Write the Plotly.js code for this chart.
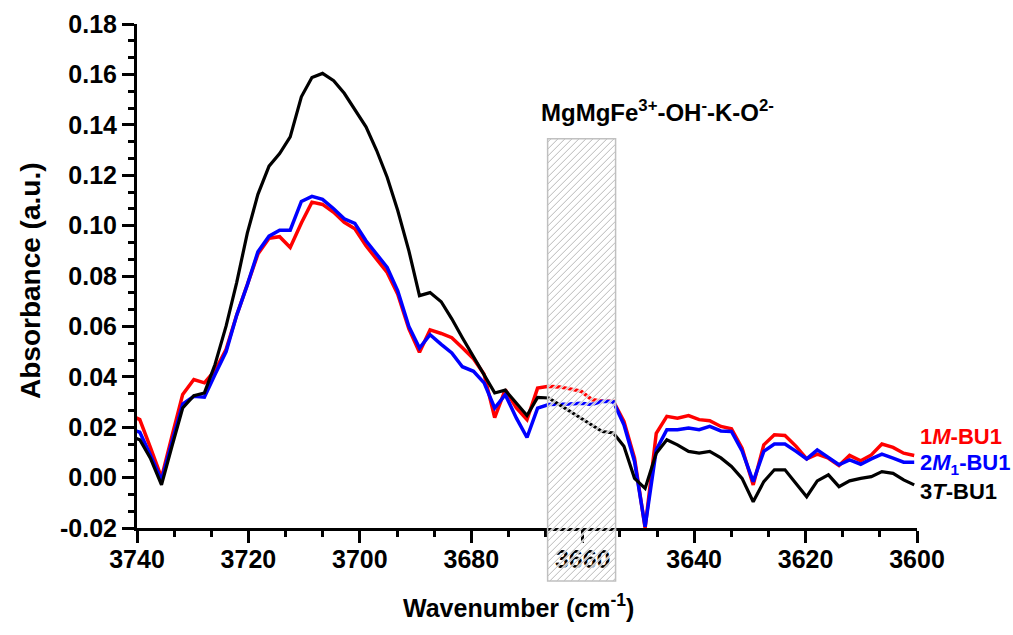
<!DOCTYPE html>
<html>
<head>
<meta charset="utf-8">
<script src="https://cdn.plot.ly/plotly-3.0.1.min.js"></script>
<style>html,body{margin:0;padding:0;background:#fff;}#chart{width:1013px;height:635px;}</style>
</head>
<body>
<div id="chart"></div>
<script>
// Wavenumbers (cm-1)
const wavenumber = [3741.4, 3739.5, 3737.6, 3735.6, 3733.7, 3731.8, 3729.8, 3727.9, 3726.0, 3724.0,
  3722.1, 3720.2, 3718.3, 3716.3, 3714.4, 3712.5, 3710.5, 3708.6, 3706.7, 3704.7,
  3702.8, 3700.9, 3698.9, 3697.0, 3695.1, 3693.2, 3691.2, 3689.3, 3687.4, 3685.4,
  3683.5, 3681.6, 3679.6, 3677.7, 3675.8, 3673.9, 3671.9, 3670.0, 3668.1, 3666.1,
  3664.2, 3662.3, 3660.3, 3658.4, 3656.5, 3654.5, 3652.6, 3650.7, 3648.8, 3646.8,
  3644.9, 3643.0, 3641.0, 3639.1, 3637.2, 3635.2, 3633.3, 3631.4, 3629.4, 3627.5,
  3625.6, 3623.7, 3621.7, 3619.8, 3617.9, 3615.9, 3614.0, 3612.1, 3610.1, 3608.2,
  3606.3, 3604.3, 3602.4, 3600.5];

// 1M-BU1 (red)
const abs1M = [0.0250, 0.0230, 0.0120, 0.0000, 0.0166, 0.0330, 0.0389, 0.0376, 0.0425, 0.0509,
  0.0645, 0.0765, 0.0887, 0.0950, 0.0956, 0.0913, 0.1010, 0.1093, 0.1084, 0.1053,
  0.1013, 0.0987, 0.0920, 0.0867, 0.0814, 0.0728, 0.0590, 0.0497, 0.0586, 0.0572,
  0.0555, 0.0515, 0.0472, 0.0410, 0.0238, 0.0349, 0.0276, 0.0230, 0.0355, 0.0362,
  0.0360, 0.0352, 0.0343, 0.0310, 0.0303, 0.0303, 0.0223, 0.0077, -0.0200, 0.0176,
  0.0243, 0.0236, 0.0246, 0.0230, 0.0226, 0.0203, 0.0194, 0.0117, -0.0029, 0.0130,
  0.0170, 0.0167, 0.0124, 0.0074, 0.0093, 0.0077, 0.0048, 0.0088, 0.0067, 0.0090,
  0.0133, 0.0120, 0.0097, 0.0088];

// 2M1-BU1 (blue)
const abs2M1 = [0.0195, 0.0180, 0.0090, -0.0010, 0.0143, 0.0292, 0.0323, 0.0319, 0.0409, 0.0500,
  0.0645, 0.0765, 0.0896, 0.0958, 0.0982, 0.0982, 0.1096, 0.1116, 0.1104, 0.1067,
  0.1027, 0.1009, 0.0940, 0.0887, 0.0834, 0.0741, 0.0600, 0.0514, 0.0567, 0.0529,
  0.0495, 0.0440, 0.0422, 0.0376, 0.0276, 0.0329, 0.0236, 0.0159, 0.0276, 0.0290,
  0.0290, 0.0292, 0.0295, 0.0290, 0.0303, 0.0301, 0.0210, 0.0064, -0.0195, 0.0110,
  0.0190, 0.0190, 0.0197, 0.0190, 0.0203, 0.0185, 0.0183, 0.0106, -0.0016, 0.0104,
  0.0133, 0.0133, 0.0104, 0.0074, 0.0110, 0.0080, 0.0051, 0.0070, 0.0053, 0.0074,
  0.0093, 0.0077, 0.0061, 0.0061];

// 3T-BU1 (black)
const abs3T = [0.0165, 0.0150, 0.0077, -0.0029, 0.0126, 0.0276, 0.0325, 0.0336, 0.0449, 0.0602,
  0.0775, 0.0970, 0.1124, 0.1236, 0.1286, 0.1352, 0.1511, 0.1588, 0.1604, 0.1575,
  0.1525, 0.1458, 0.1392, 0.1299, 0.1192, 0.1060, 0.0900, 0.0722, 0.0734, 0.0698,
  0.0630, 0.0555, 0.0480, 0.0412, 0.0336, 0.0347, 0.0296, 0.0246, 0.0318, 0.0316,
  0.0290, 0.0263, 0.0236, 0.0210, 0.0183, 0.0177, 0.0124, -0.0003, -0.0043, 0.0097,
  0.0150, 0.0130, 0.0104, 0.0097, 0.0104, 0.0078, 0.0044, -0.0003, -0.0096, -0.0016,
  0.0031, 0.0031, -0.0023, -0.0076, -0.0013, 0.0011, -0.0036, -0.0013, -0.0003, 0.0004,
  0.0024, 0.0017, -0.0009, -0.0029];

const seriesNames = ['1<i>M</i>-BU1', '2<i>M</i><sub>1</sub>-BU1', '3<i>T</i>-BU1'];
const seriesColors = ['#ff0000', '#0000ff', '#000000'];
const labelY = [0.0165, 0.0055, -0.0055];

const xTickVals = [3740, 3720, 3700, 3680, 3660, 3640, 3620, 3600];
const xTickText = ['3740', '3720', '3700', '3680', '3660', '3640', '3620', '3600'];
const yTickVals = [-0.02, 0.00, 0.02, 0.04, 0.06, 0.08, 0.10, 0.12, 0.14, 0.16, 0.18];
const yTickText = ['-0.02', '0.00', '0.02', '0.04', '0.06', '0.08', '0.10', '0.12', '0.14', '0.16', '0.18'];

const xTitle = 'Wavenumber (cm<sup>-1</sup>)';
const yTitle = 'Absorbance (a.u.)';

// highlighted band
const bandX = [3666.3, 3654.1];
const bandY = [-0.041, 0.1345];
const bandLabel = 'MgMgFe<sup>3+</sup>-OH<sup>-</sup>-K-O<sup>2-</sup>';

const xRange = [3740, 3600];
const yRange = [-0.02, 0.18];

const M = {l: 137, r: 96, t: 24, b: 107};
const W = 1013, H = 635;
const PW = W - M.l - M.r, PH = H - M.t - M.b;

const FONT = 'Liberation Sans, Arial, Helvetica, sans-serif';

const traces = [abs1M, abs2M1, abs3T].map((ys, i) => ({
  x: wavenumber, y: ys, type: 'scatter', mode: 'lines',
  line: {color: seriesColors[i], width: i === 2 ? 3.2 : 3.5},
  name: seriesNames[i], hoverinfo: 'skip'
}));

// pixel helpers for the hatch pattern
function xPix(v) { return M.l + (v - xRange[0]) / (xRange[1] - xRange[0]) * PW; }
function yPix(v) { return M.t + (yRange[1] - v) / (yRange[1] - yRange[0]) * PH; }
function xPaper(p) { return (p - M.l) / PW; }
function yPaper(p) { return (M.t + PH - p) / PH; }

const X0 = xPix(bandX[0]), X1 = xPix(bandX[1]);
const Y0 = yPix(bandY[1]), Y1 = yPix(bandY[0]);

const shapes = [];
const step = 7;
for (let c = X0 + Y0 + step / 2; c < X1 + Y1; c += step) {
  const pa = Math.max(X0, c - Y1), pb = Math.min(X1, c - Y0);
  if (pb <= pa) continue;
  const seg = {x0: xPaper(pa), y0: yPaper(c - pa), x1: xPaper(pb), y1: yPaper(c - pb)};
  shapes.push(Object.assign({type: 'line', xref: 'paper', yref: 'paper', layer: 'above',
    line: {color: 'rgba(255,255,255,0.85)', width: 2.4}}, seg));
  shapes.push(Object.assign({type: 'line', xref: 'paper', yref: 'paper', layer: 'above',
    line: {color: '#b9b9b9', width: 1}}, seg));
}
shapes.push({type: 'rect', xref: 'paper', yref: 'paper', layer: 'above',
  x0: xPaper(X0), x1: xPaper(X1), y0: yPaper(Y1), y1: yPaper(Y0),
  line: {color: '#c0c0c0', width: 1.5}, fillcolor: 'rgba(0,0,0,0)'});

const annotations = seriesNames.map((t, i) => ({
  text: t, xref: 'paper', x: 1, xanchor: 'left', xshift: 1,
  yref: 'y', y: labelY[i], yanchor: 'middle', showarrow: false,
  font: {family: FONT, size: 22, color: seriesColors[i], weight: 'bold'}
}));
annotations.push({
  text: bandLabel, xref: 'x', x: 3667.9, xanchor: 'left',
  yref: 'y', y: 0.1455, yanchor: 'middle', showarrow: false,
  font: {family: FONT, size: 24, color: '#000', weight: 'bold'}
});
// axis titles
annotations.push({
  text: xTitle, xref: 'paper', x: xPaper(518), xanchor: 'center',
  yref: 'paper', y: yPaper(606), yanchor: 'middle', showarrow: false,
  font: {family: FONT, size: 25, color: '#000', weight: 'bold'}
});
annotations.push({
  text: yTitle, xref: 'paper', x: xPaper(30), xanchor: 'center',
  yref: 'paper', y: yPaper(281), yanchor: 'middle', showarrow: false, textangle: -90,
  font: {family: FONT, size: 28, color: '#000', weight: 'bold'}
});

const axisCommon = {
  showgrid: false, zeroline: false, showline: true, linecolor: '#000', linewidth: 3,
  ticks: 'outside', ticklen: 12, tickwidth: 3, tickcolor: '#000',
  tickfont: {family: FONT, size: 25, color: '#000', weight: 'bold'},
  tickmode: 'array', mirror: false
};

const layout = {
  width: W, height: H, margin: M, showlegend: false,
  paper_bgcolor: '#fff', plot_bgcolor: '#fff',
  xaxis: Object.assign({}, axisCommon, {
    range: xRange, tickvals: xTickVals, ticktext: xTickText, ticklabelstandoff: -5,
    minor: {tick0: 3740, dtick: 20 / 3, ticklen: 6, tickwidth: 3, tickcolor: '#000', ticks: 'outside'}
  }),
  yaxis: Object.assign({}, axisCommon, {
    range: yRange, tickvals: yTickVals, ticktext: yTickText,
    minor: {tick0: -0.02, dtick: 0.02 / 3, ticklen: 6, tickwidth: 3, tickcolor: '#000', ticks: 'outside'}
  }),
  shapes: shapes, annotations: annotations
};

Plotly.newPlot('chart', traces, layout, {displayModeBar: false, staticPlot: true});
</script>
</body>
</html>
